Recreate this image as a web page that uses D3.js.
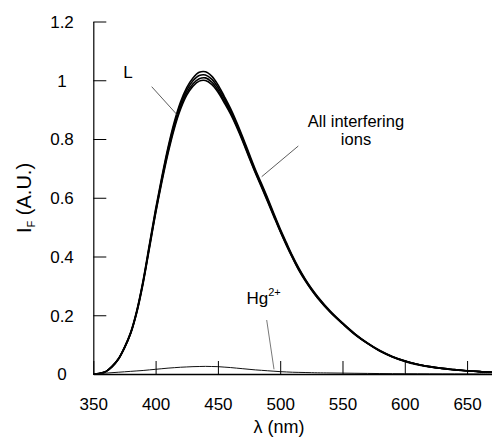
<!DOCTYPE html>
<html><head><meta charset="utf-8">
<script src="https://cdn.jsdelivr.net/npm/d3@7/dist/d3.min.js"></script>
<style>body{margin:0;background:#fff}svg{display:block;font-family:"Liberation Sans",Arial,sans-serif}</style>
</head><body><svg id="c" width="492" height="440"></svg>
<script>
const wavelengths = [350,355,360,365,370,375,380,385,390,395,400,405,410,415,420,425,430,435,440,445,450,455,460,465,470,475,480,485,490,495,500,505,510,515,520,525,530,540,550,560,570,580,590,600,610,620,630,640,650,660,670];
const seriesL = [0,0.002,0.008,0.025,0.05,0.09,0.14,0.215,0.315,0.435,0.555,0.665,0.765,0.85,0.918,0.966,0.998,1.016,1.018,1.004,0.976,0.938,0.898,0.852,0.8,0.745,0.692,0.643,0.593,0.541,0.49,0.443,0.398,0.357,0.322,0.29,0.262,0.213,0.173,0.136,0.105,0.079,0.059,0.044,0.033,0.025,0.019,0.015,0.011,0.008,0.006];
const ionsA = [0,0.002,0.008,0.026,0.051,0.091,0.142,0.218,0.319,0.44,0.561,0.671,0.772,0.858,0.926,0.975,1.008,1.027,1.029,1.014,0.985,0.946,0.905,0.858,0.806,0.751,0.697,0.648,0.598,0.545,0.494,0.447,0.401,0.36,0.324,0.292,0.264,0.215,0.174,0.137,0.106,0.08,0.06,0.045,0.033,0.025,0.019,0.015,0.011,0.008,0.006];
const ionsB = [0,0.002,0.008,0.025,0.05,0.089,0.139,0.213,0.312,0.431,0.55,0.659,0.758,0.842,0.909,0.957,0.988,1.005,1.008,0.994,0.967,0.93,0.891,0.846,0.795,0.741,0.688,0.639,0.589,0.538,0.487,0.44,0.396,0.355,0.32,0.288,0.26,0.212,0.172,0.135,0.104,0.078,0.059,0.044,0.033,0.025,0.019,0.014,0.011,0.008,0.006];
const ionsC = [0,0.002,0.008,0.024,0.049,0.088,0.138,0.211,0.309,0.427,0.546,0.653,0.751,0.835,0.901,0.949,0.98,0.997,0.999,0.986,0.96,0.924,0.886,0.841,0.791,0.737,0.685,0.636,0.586,0.535,0.485,0.438,0.394,0.353,0.318,0.287,0.259,0.211,0.171,0.134,0.104,0.078,0.058,0.043,0.032,0.024,0.019,0.014,0.011,0.008,0.006];
const seriesHg = [0,0.001,0.003,0.0045,0.006,0.0075,0.009,0.0105,0.012,0.014,0.016,0.018,0.02,0.0215,0.023,0.024,0.025,0.0255,0.026,0.0255,0.025,0.0235,0.022,0.02,0.018,0.016,0.014,0.0125,0.011,0.0095,0.008,0.007,0.006,0.0055,0.005,0.0045,0.004,0.0035,0.003,0.0025,0.002,0.0015,0.0012,0.001,0.0008,0.0006,0.0004,0.0003,0.0002,0.0001,0];
const xTicks = [350,400,450,500,550,600,650];
const yTicks = [0,0.2,0.4,0.6,0.8,1,1.2];

const svg = d3.select("#c");
const x = d3.scaleLinear().domain([350,670]).range([93.3,492]);
const y = d3.scaleLinear().domain([0,1.2]).range([374,21.5]);

const line = d3.line().x((d,i)=>x(wavelengths[i])).y(d=>y(d)).curve(d3.curveCatmullRom);

[ionsA, ionsB, ionsC, seriesL].forEach(s=>{
  svg.append("path").attr("d", line(s)).attr("fill","none").attr("stroke","#000").attr("stroke-width",1.6);
});
svg.append("path").attr("d", line(seriesHg)).attr("fill","none").attr("stroke","#111").attr("stroke-width",1);

const xa = svg.append("g").attr("transform","translate(0,374)")
  .call(d3.axisBottom(x).tickValues(xTicks).tickSizeInner(-13).tickSizeOuter(0).tickPadding(24).tickFormat(d3.format("d")));
xa.select(".domain").attr("stroke","#000").attr("stroke-width",1.6);
xa.selectAll(".tick line").attr("stroke","#000").attr("stroke-width",1);
xa.selectAll("text").attr("font-size",17).attr("fill","#000").attr("font-family","Liberation Sans, Arial, sans-serif");

const ya = svg.append("g").attr("transform","translate(93.3,0)")
  .call(d3.axisLeft(y).tickValues(yTicks).tickSizeInner(-13).tickSizeOuter(0).tickFormat(d=>String(+d.toFixed(1))));
ya.select(".domain").attr("stroke","#000").attr("stroke-width",1.2);
ya.selectAll(".tick line").attr("stroke","#000").attr("stroke-width",1);
ya.selectAll("text").attr("font-size",17).attr("fill","#000").attr("text-anchor","middle").attr("x",-31.3).attr("dy","0.35em").attr("font-family","Liberation Sans, Arial, sans-serif");

svg.append("text").attr("x",279).attr("y",433).attr("text-anchor","middle").attr("font-size",18).text("λ (nm)");
const yt = svg.append("text").attr("transform","translate(31,198) rotate(-90)").attr("text-anchor","middle").attr("font-size",20);
yt.append("tspan").text("I");
yt.append("tspan").attr("font-size",11).attr("dy",4).text("F");
yt.append("tspan").attr("dy",-4).text(" (A.U.)");

const ann = svg.append("g").attr("font-size",16.5).attr("fill","#000");
ann.append("text").attr("x",128).attr("y",78).attr("text-anchor","middle").attr("font-size",17).text("L");
svg.append("line").attr("x1",151.7).attr("y1",86.7).attr("x2",177.3).attr("y2",115).attr("stroke","#333").attr("stroke-width",0.8);
ann.append("text").attr("x",356).attr("y",127).attr("text-anchor","middle").text("All interfering");
ann.append("text").attr("x",356).attr("y",144.5).attr("text-anchor","middle").text("ions");
svg.append("line").attr("x1",298.3).attr("y1",146).attr("x2",261.7).attr("y2",176.7).attr("stroke","#333").attr("stroke-width",0.8);
const hg = ann.append("text").attr("x",246.5).attr("y",303.5).attr("font-size",17);
hg.append("tspan").text("Hg");
hg.append("tspan").attr("font-size",11).attr("dy",-8).text("2+");
svg.append("line").attr("x1",266.7).attr("y1",320).attr("x2",274).attr("y2",369.3).attr("stroke","#555").attr("stroke-width",0.8);
</script></body></html>
